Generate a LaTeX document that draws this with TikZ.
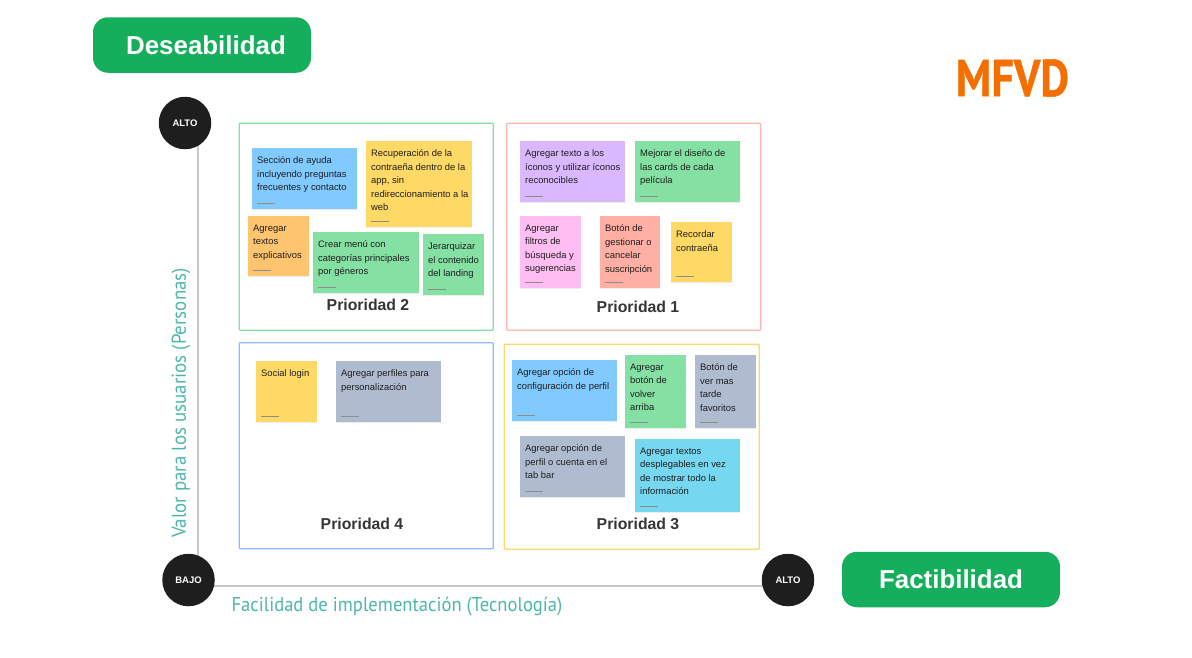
\documentclass[tikz,border=0pt]{standalone}
\usepackage{fontspec}
\setmainfont{Liberation Sans}
\newfontfamily\ptsans{PT Sans}
\newfontfamily\mfvdfont[BoldFeatures={FakeBold=.8}]{PT Sans}
\usetikzlibrary{shadows,backgrounds,positioning}
\definecolor{notaazul}{HTML}{80CAFF}
\definecolor{notaamarilla}{HTML}{FFD966}
\definecolor{notanaranja}{HTML}{FFC470}
\definecolor{notaverde}{HTML}{85E0A3}
\definecolor{notavioleta}{HTML}{D9B8FF}
\definecolor{notarosa}{HTML}{FFBDF2}
\definecolor{notasalmon}{HTML}{FFAFA3}
\definecolor{notagris}{HTML}{AFBCCF}
\definecolor{notaceleste}{HTML}{75D7F0}
\definecolor{marcoazul}{HTML}{8FBBFF}
\definecolor{marcorojo}{HTML}{FFB8B0}
\definecolor{verdepill}{HTML}{14AE5C}
\definecolor{tinta}{HTML}{1E1E1E}
\definecolor{teal}{HTML}{4DB6AC}
\definecolor{naranja}{HTML}{F46F00}
\tikzset{
  nota/.style={anchor=north west,inner sep=0pt,drop shadow={opacity=.14,shadow xshift=0pt,shadow yshift=-1pt}},
  notatexto/.style={anchor=north west,inner sep=0pt,align=left,text=tinta,font=\fontsize{9.4}{13.5}\selectfont},
  marco/.style={anchor=north west,inner sep=0pt,draw,line width=1.4pt,rounded corners=1pt},
  prioridad/.style={text=tinta!90,font=\fontsize{15.8}{18}\selectfont\bfseries},
  pill/.style={fill=verdepill,text=white,rounded corners=15pt,minimum width=218pt,minimum height=55.5pt,font=\fontsize{25.9}{30}\selectfont\bfseries},
  punto/.style={circle,fill=tinta,text=white,minimum size=52.5pt,inner sep=0pt,font=\fontsize{9.5}{11}\selectfont\bfseries},
  eje/.style={draw=black!22,line width=2pt},
  ejetexto/.style={text=teal,font=\fontsize{20}{24}\selectfont\ptsans}
}
% nombre, x, y, ancho, alto, color, texto
\newcommand{\nota}[7]{
    \node [nota,fill=#6,minimum width=#4pt,minimum height=#5pt] (#1) at (#2,#3) {};
    \node [notatexto,below right=8.5pt and 5pt of #1.north west,anchor=north west] (#1t) {#7};
    \fill [black!45] ([xshift=5pt,yshift=6.5pt]#1.south west) rectangle ++(18,0.7);
}

\begin{document}
\begin{tikzpicture}[x=1pt,y=-1pt]
    \useasboundingbox (0,0) rectangle (1192,657);

    % marcos
    \node [marco,draw=notaverde,minimum width=254pt,minimum height=207pt] (p2) at (238.5,122.5) {};
    \node [marco,draw=marcorojo,minimum width=254pt,minimum height=207pt] (p1) at (506,122.5) {};
    \node [marco,draw=marcoazul,minimum width=254pt,minimum height=206pt] (p4) at (238.5,342) {};
    \node [marco,draw=notaamarilla,minimum width=255pt,minimum height=205pt] (p3) at (503.5,343.5) {};

    % prioridad 2
    \nota{seccion}{252}{148}{105}{61}{notaazul}{Sección de ayuda\\incluyendo preguntas\\frecuentes y contacto}
    \nota{recupera}{366}{141}{106}{86}{notaamarilla}{Recuperación de la\\contraeña dentro de la\\app, sin\\redireccionamiento a la\\web}
    \nota{explica}{248}{216}{61}{60}{notanaranja}{Agregar\\textos\\explicativos}
    \nota{menu}{313}{232}{106}{61}{notaverde}{Crear menú con\\categorías principales\\por géneros}
    \nota{jerarquia}{423}{234}{61}{61}{notaverde}{Jerarquizar\\el contenido\\del landing}
    \node [prioridad] (t2) at (368,305) {Prioridad 2};

    % prioridad 1
    \nota{iconos}{520}{141}{105}{61}{notavioleta}{Agregar texto a los\\íconos y utilizar íconos\\reconocibles}
    \nota{cards}{635}{141}{105}{61}{notaverde}{Mejorar el diseño de\\las cards de cada\\película}
    \nota{filtros}{520}{216}{61}{72}{notarosa}{Agregar\\filtros de\\búsqueda y\\sugerencias}
    \nota{gestion}{600}{216}{60}{72}{notasalmon}{Botón de\\gestionar o\\cancelar\\suscripción}
    \nota{recordar}{671}{222}{61}{60}{notaamarilla}{Recordar\\contraeña}
    \node [prioridad] (t1) at (638,307) {Prioridad 1};

    % prioridad 4
    \nota{social}{256}{361}{61}{61}{notaamarilla}{Social login}
    \nota{perfiles}{336}{361}{105}{61}{notagris}{Agregar perfiles para\\personalización}
    \node [prioridad] (t4) at (362,524) {Prioridad 4};

    % prioridad 3
    \nota{config}{512}{360}{105}{61}{notaazul}{Agregar opción de\\configuración de perfil}
    \nota{volver}{625}{355}{61}{73}{notaverde}{Agregar\\botón de\\volver\\arriba}
    \nota{tarde}{695}{355}{61}{73}{notagris}{Botón de\\ver mas\\tarde\\favoritos}
    \nota{cuenta}{520}{436}{105}{61}{notagris}{Agregar opción de\\perfil o cuenta en el\\tab bar}
    \nota{desplega}{635}{439}{105}{73}{notaceleste}{Agregar textos\\desplegables en vez\\de mostrar todo la\\información}
    \node [prioridad] (t3) at (638,524) {Prioridad 3};

    % ejes
    \node [punto] (altoy) at (185,123) {ALTO};
    \node [punto] (bajo) at (188.5,580) {BAJO};
    \node [punto] (altox) at (788,580) {ALTO};
    \begin{scope}[on background layer]
      \draw [eje] ([xshift=13pt]altoy.center) -- ([xshift=9.5pt]bajo.center);
      \draw [eje] ([yshift=-6pt]bajo.center) -- ([yshift=-6pt]altox.center);
    \end{scope}
    \node [ejetexto,rotate=90,xscale=.945] (valor) at (181,403) {Valor para los usuarios (Personas)};
    \node [ejetexto,xscale=.93] (facilidad) at (397,606.5) {Facilidad de implementación (Tecnología)};

    % titulos
    \node [pill] (desea) at (202,45) {\hspace{8pt}Deseabilidad};
    \node [pill] (facti) at (951,579.5) {Factibilidad};
    \node [text=naranja,xscale=.85,font=\fontsize{52}{56}\selectfont\mfvdfont\bfseries] (mfvd) at (1012.5,78) {MFVD};
\end{tikzpicture}
\end{document}
